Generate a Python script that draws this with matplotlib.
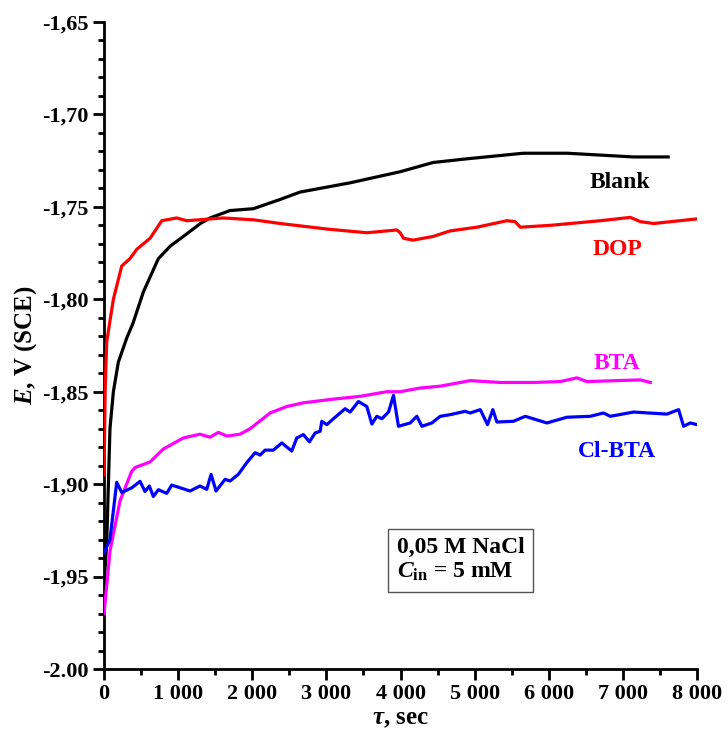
import matplotlib
matplotlib.use("Agg")
from matplotlib import pyplot as plt
from matplotlib.ticker import MultipleLocator

plt.rcParams['font.family'] = ['Liberation Serif', 'DejaVu Serif']
plt.rcParams['font.weight'] = 'bold'
plt.rcParams['mathtext.fontset'] = 'custom'
plt.rcParams['mathtext.rm'] = 'Liberation Serif:bold'
plt.rcParams['mathtext.it'] = 'Liberation Serif:bold:italic'
plt.rcParams['mathtext.bf'] = 'Liberation Serif:bold'

# potential vs time, sec / V (SCE)
blank_t = [0, 36, 80, 126, 193, 306, 390, 531, 733, 900, 1070, 1300, 1430, 1700,
           2015, 2375, 2645, 3320, 3995, 4440, 4900, 5655, 6250, 7140, 7610]
blank_e = [-1.955, -1.932, -1.870, -1.850, -1.834, -1.821, -1.813, -1.796, -1.778,
           -1.771, -1.766, -1.759, -1.756, -1.752, -1.751, -1.746, -1.742, -1.737,
           -1.731, -1.726, -1.724, -1.721, -1.721, -1.723, -1.723]

dop_t = [0, 15, 36, 126, 239, 350, 441, 621, 779, 981, 1116, 1610, 2015, 2375,
         3005, 3545, 3950, 3995, 4040, 4170, 4440, 4670, 5030, 5435, 5545, 5615,
         6020, 6695, 7100, 7235, 7415, 8000]
dop_e = [-1.895, -1.850, -1.823, -1.800, -1.782, -1.778, -1.773, -1.767, -1.7575,
         -1.756, -1.7575, -1.756, -1.757, -1.759, -1.762, -1.764, -1.7625, -1.764,
         -1.767, -1.768, -1.766, -1.763, -1.761, -1.7575, -1.758, -1.761, -1.760,
         -1.7575, -1.7557, -1.758, -1.759, -1.7565]

bta_t = [0, 81, 216, 374, 420, 621, 800, 1070, 1295, 1430, 1543, 1656, 1835, 1970,
         2240, 2465, 2690, 3095, 3455, 3815, 3995, 4265, 4535, 4940, 5345, 5795,
         6155, 6380, 6515, 6920, 7235, 7370]
bta_e = [-1.970, -1.936, -1.909, -1.893, -1.891, -1.888, -1.881, -1.875, -1.873,
         -1.8746, -1.872, -1.874, -1.873, -1.870, -1.8615, -1.858, -1.856, -1.854,
         -1.8525, -1.850, -1.8500, -1.848, -1.847, -1.844, -1.845, -1.845, -1.8445,
         -1.8425, -1.8445, -1.844, -1.8436, -1.845]

clbta_t = [0, 80, 171, 239, 374, 486, 553, 611, 665, 733, 846, 913, 1160, 1295,
           1386, 1444, 1511, 1633, 1700, 1812, 1925, 2038, 2105, 2173, 2285, 2398,
           2533, 2600, 2690, 2771, 2848, 2915, 2938, 3005, 3095, 3252, 3320, 3432,
           3545, 3613, 3680, 3748, 3838, 3905, 3972, 4130, 4220, 4288, 4423, 4535,
           4670, 4872, 4940, 5075, 5173, 5245, 5300, 5524, 5682, 5974, 6245, 6559,
           6738, 6829, 7144, 7594, 7751, 7818, 7908, 8000]
clbta_e = [-1.937, -1.930, -1.899, -1.9045, -1.902, -1.8985, -1.904, -1.901,
           -1.9067, -1.903, -1.905, -1.9005, -1.9037, -1.901, -1.9028, -1.8947,
           -1.9037, -1.8974, -1.8983, -1.8947, -1.8884, -1.883, -1.8843, -1.8816,
           -1.8816, -1.8777, -1.8821, -1.875, -1.8732, -1.8771, -1.8723, -1.8714,
           -1.866, -1.8678, -1.8646, -1.8592, -1.861, -1.8553, -1.858, -1.8675,
           -1.8633, -1.8646, -1.861, -1.852, -1.8687, -1.8669, -1.8633, -1.8687,
           -1.8669, -1.8633, -1.8624, -1.8606, -1.8615, -1.8597, -1.8678, -1.8597,
           -1.8664, -1.866, -1.8633, -1.8669, -1.8638, -1.8633, -1.8615, -1.8633,
           -1.861, -1.8621, -1.8597, -1.8687, -1.8669, -1.8678]

x_ticks = [0, 1000, 2000, 3000, 4000, 5000, 6000, 7000, 8000]
x_labels = ["0", "1 000", "2 000", "3 000", "4 000", "5 000", "6 000", "7 000", "8 000"]
y_ticks = [-2.00, -1.95, -1.90, -1.85, -1.80, -1.75, -1.70, -1.65]
y_labels = ["-2.00", "-1,95", "-1,90", "-1,85", "-1,80", "-1,75", "-1,70", "-1,65"]

fig = plt.figure(figsize=(7.28, 7.33), dpi=100)
ax = fig.add_axes([0.1429, 0.0873, 0.8146, 0.8827])

lw = 2.3
ax.plot(blank_t, blank_e, color='black', lw=lw, zorder=3)
ax.plot(dop_t, dop_e, color='#ff0000', lw=lw, zorder=4)
ax.plot(bta_t, bta_e, color='#ff00ff', lw=lw, zorder=3)
ax.plot(clbta_t, clbta_e, color='#0000ff', lw=lw, zorder=3)

lab_kw = dict(fontsize=17, fontweight='bold', ha='center', va='center')
ax.text(6960, -1.7370, "Blank", color='black', **lab_kw)
ax.text(6925, -1.7730, "DOP", color='#ff0000', **lab_kw)
ax.text(6925, -1.8350, "BTA", color='#ff00ff', **lab_kw)
ax.text(6925, -1.8826, "Cl-BTA", color='#0000ff', **lab_kw)

ax.text(4810, -1.9410, "0,05 M NaCl\n$C$$_{\\mathrm{in}}$ = 5 mM", fontsize=17,
        fontweight='bold', ha='center', va='center', multialignment='left',
        linespacing=1.2,
        bbox=dict(boxstyle='square,pad=0.35', fc='white', ec='#555555', lw=1.0))

ax.set_xlim(0, 8000)
ax.set_ylim(-2.00, -1.65)
ax.set_xticks(x_ticks)
ax.set_xticklabels(x_labels)
ax.set_yticks(y_ticks)
ax.set_yticklabels(y_labels)
ax.xaxis.set_minor_locator(MultipleLocator(500))
ax.yaxis.set_minor_locator(MultipleLocator(0.01))

for side in ['top', 'right']:
    ax.spines[side].set_visible(False)
for side in ['left', 'bottom']:
    ax.spines[side].set_linewidth(2.0)

ax.tick_params(which='major', direction='out', length=8, width=2.0,
               labelsize=16, pad=3)
ax.tick_params(which='minor', direction='out', length=4, width=2.0)
for lbl in ax.get_xticklabels() + ax.get_yticklabels():
    lbl.set_fontweight('bold')

ax.set_xlabel("$\\tau$, sec", fontsize=18, fontweight='bold', labelpad=2)
ax.set_ylabel("$E$, V (SCE)", fontsize=18, fontweight='bold', labelpad=2)

fig.savefig("out.png", dpi=100)
